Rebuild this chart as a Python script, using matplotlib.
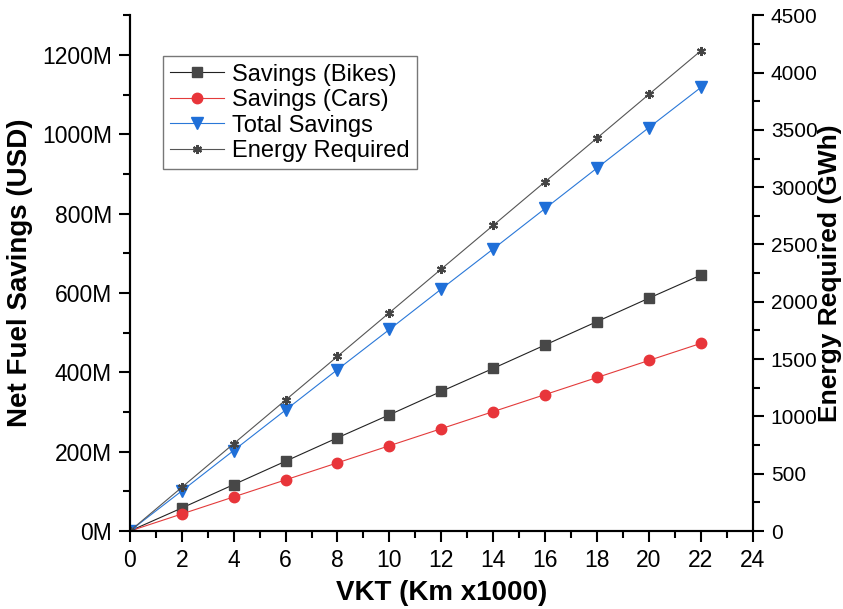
import matplotlib
matplotlib.use("Agg")
import matplotlib.pyplot as plt
from matplotlib.ticker import MultipleLocator, FuncFormatter

plt.rcParams["font.family"] = ["Liberation Sans", "DejaVu Sans"]

# data (savings in million USD, energy in GWh)
vkt = [0, 2, 4, 6, 8, 10, 12, 14, 16, 18, 20, 22]
savings_bikes = [0, 58, 117, 176, 235, 293, 352, 410, 469, 528, 587, 645]
savings_cars = [0, 43, 86, 129, 172, 215, 258, 301, 344, 387, 430, 473]
total_savings = [0, 101, 203, 305, 407, 508, 610, 711, 813, 915, 1017, 1118]
energy_required = [0, 381, 762, 1143, 1524, 1905, 2286, 2667, 3048, 3429, 3810, 4190]

fig, ax = plt.subplots(figsize=(8.43, 6.09), dpi=100)
fig.subplots_adjust(left=0.154, right=0.893, bottom=0.128, top=0.975)
ax2 = ax.twinx()

l1, = ax.plot(vkt, savings_bikes, color="#222222", lw=0.8, marker="s", ms=7,
              mfc="#474747", mec="#474747", label="Savings (Bikes)")
l2, = ax.plot(vkt, savings_cars, color="#e33b3b", lw=0.8, marker="o", ms=7.5,
              mfc="#e8353a", mec="#e8353a", label="Savings (Cars)")
l3, = ax.plot(vkt, total_savings, color="#2a78d8", lw=0.8, marker="v", ms=9,
              mfc="#1f6fd8", mec="#1f6fd8", label="Total Savings")
l4, = ax2.plot(vkt, energy_required, color="#555555", lw=0.8, marker=(6, 2, 0), ms=6.5,
               mew=1.5, mec="#444444", label="Energy Required")

ax.set_xlim(0, 24)
ax.set_ylim(0, 1300)
ax2.set_ylim(0, 4500)

ax.xaxis.set_major_locator(MultipleLocator(2))
ax.xaxis.set_minor_locator(MultipleLocator(1))
ax.yaxis.set_major_locator(MultipleLocator(200))
ax.yaxis.set_minor_locator(MultipleLocator(100))
ax.yaxis.set_major_formatter(FuncFormatter(lambda v, p: f"{v:.0f}M"))
ax2.yaxis.set_major_locator(MultipleLocator(500))
ax2.yaxis.set_minor_locator(MultipleLocator(250))

for a in (ax, ax2):
    a.spines["top"].set_visible(False)
    for s in a.spines.values():
        s.set_linewidth(1.5)
    a.tick_params(which="major", direction="out", length=8, width=1.5, labelsize=16.5, pad=5)
    a.tick_params(which="minor", direction="out", length=5, width=1.5)
ax2.tick_params(which="major", labelsize=15)

ax.set_xlabel("VKT (Km x1000)", fontsize=20, fontweight="bold", labelpad=6)
ax.set_ylabel("Net Fuel Savings (USD)", fontsize=20, fontweight="bold", labelpad=6)
ax2.set_ylabel("Energy Required (GWh)", fontsize=19, fontweight="bold")
ax2.yaxis.set_label_coords(1.105, 0.5)

leg = ax.legend(handles=[l1, l2, l3, l4], loc="upper left", bbox_to_anchor=(0.053, 0.92),
                fontsize=17, frameon=True, fancybox=False, edgecolor="#555555",
                handlelength=2.3, handletextpad=0.35, borderpad=0.3, labelspacing=0.15,
                borderaxespad=0)
leg.get_frame().set_linewidth(1.0)

fig.savefig("out.png", dpi=100)
